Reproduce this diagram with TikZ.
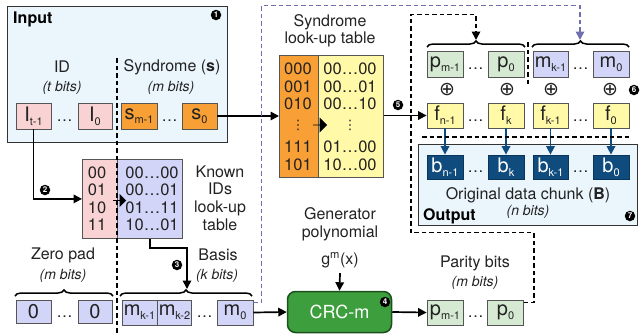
\documentclass[tikz,border=0pt]{standalone}
\usepackage{fontspec}
\setmainfont{TeX Gyre Heros}
\newfontfamily\dejavu{DejaVu Sans}
\usetikzlibrary{arrows.meta,decorations.pathreplacing,shapes.arrows,calc}
\definecolor{inbg}{HTML}{EBF5FC}
\definecolor{pinkc}{HTML}{F9D3D3}
\definecolor{orangec}{HTML}{F8A035}
\definecolor{yellowc}{HTML}{FFF9A8}
\definecolor{lavc}{HTML}{D3D5F8}
\definecolor{greenl}{HTML}{D6E9D3}
\definecolor{bluec}{HTML}{0F4B7D}
\definecolor{crcg}{HTML}{3C9E3C}
\definecolor{crcb}{HTML}{1E4F1E}
\definecolor{purp}{HTML}{7070B0}
\definecolor{txt}{HTML}{222222}
\definecolor{bord}{HTML}{555555}
\newcommand\fsz[1]{\fontsize{#1}{#1}\selectfont}
\newcommand\sbx[2]{#1\raisebox{-0.4ex}{\fsz{11}#2}}
\begin{document}
\begin{tikzpicture}[x=1pt,y=-1pt,
  bitbox/.style={draw=bord, line width=0.8pt, minimum width=35pt, minimum height=25pt, inner sep=0pt, font=\fsz{20}, text=txt},
  pinkbox/.style={bitbox, fill=pinkc},
  orbox/.style={bitbox, fill=orangec},
  lavbox/.style={bitbox, fill=lavc},
  grbox/.style={bitbox, fill=greenl},
  yebox/.style={bitbox, fill=yellowc},
  blbox/.style={bitbox, fill=bluec, text=white, draw=bluec!70!black},
  lbl/.style={font=\fsz{16}, text=txt, inner sep=0pt, align=center},
  ital/.style={font=\fsz{14}\itshape, text=txt, inner sep=0pt},
  tbl/.style={font=\fsz{16.5}, text=txt, inner sep=0pt},
  dotsn/.style={font=\fsz{16}, text=txt, inner sep=0pt},
  numc/.style={circle, fill=black, minimum size=10.5pt, inner sep=0pt, text=white, font=\fsz{8}\bfseries},
  arr/.style={-{Triangle[length=8.5pt,width=8.5pt]}, line width=1.7pt},
  dsh/.style={dash pattern=on 4.5pt off 3pt, line width=1.7pt},
  brc/.style={decorate, decoration={brace, amplitude=6pt}, line width=1.5pt},
  blk/.style={single arrow, fill=black, inner sep=0pt, single arrow head extend=3pt}
]
\useasboundingbox (0,0) rectangle (640,335);

% ---- Input box
\node[draw=black!80, line width=1pt, fill=inbg, anchor=north west, minimum width=220pt, minimum height=136pt, inner sep=0] (inbox) at (7,6) {};
\node[font=\fsz{16}\bfseries, inner sep=0, anchor=base west] (inlbl) at (13,23) {Input};
\node[numc] (n1) at (216,15) {1};
\node[lbl] (idl) at (62,67) {ID};
\node[ital] (idb) at (62,88) {(t bits)};
\node[lbl] (synl) at (172,67) {Syndrome (\textbf{s})};
\node[ital] (synb) at (171,88) {(m bits)};
\node[pinkbox, minimum height=26pt] (It1) at (33.5,116) {\sbx{I}{t-1}};
\node[pinkbox, minimum height=26pt, minimum width=34pt] (I0) at (95,116) {\sbx{I}{0}};
\node[orbox, minimum height=26pt, minimum width=36pt] (sm1) at (139,116) {\sbx{s}{m-1}};
\node[orbox, minimum height=26pt] (s0) at (199.5,116) {\sbx{s}{0}};
\node[dotsn] (d1) at (64.5,121) {…};
\node[dotsn] (d2) at (169.5,121) {…};

% ---- Syndrome look-up table
\node[lbl, font=\fontsize{16}{17}\selectfont] (sylbl) at (330,31) {Syndrome\\look-up table};
\node[draw=bord, line width=0.8pt, fill=orangec, anchor=north west, minimum width=39pt, minimum height=122pt, inner sep=0] (sL) at (279,55) {};
\node[draw=bord, line width=0.8pt, fill=yellowc, anchor=north west, minimum width=65pt, minimum height=122pt, inner sep=0] (sR) at (318,55) {};
\foreach \yy/\aa/\bb [count=\i] in {69/000/00…00, 87/001/00…01, 104/010/00…10, 147/111/01…00, 165/101/10…00}
  { \node[tbl] (sl\i) at (298,\yy) {\aa}; \node[tbl] (sr\i) at (350,\yy) {\bb}; }
\node[font=\dejavu\fsz{13}, text=txt, inner sep=0] (slv) at (298,125) {⋮};
\node[font=\dejavu\fsz{13}, text=txt, inner sep=0] (srv) at (350,125) {⋮};
\node[blk, minimum height=14pt, minimum width=15pt] (sarr) at (320,125) {};
\node[numc] (n5) at (398,105) {5};

% ---- Known IDs table
\node[draw=bord, line width=0.8pt, fill=pinkc, anchor=north west, minimum width=35pt, minimum height=79pt, inner sep=0] (kL) at (82,159) {};
\node[draw=bord, line width=0.8pt, fill=lavc, anchor=north west, minimum width=65pt, minimum height=79pt, inner sep=0] (kR) at (117,159) {};
\foreach \yy/\aa/\bb [count=\i] in {173/00/00…00, 190/01/00…01, 208/10/01…11, 225/11/10…01}
  { \node[tbl] (kl\i) at (97,\yy) {\aa}; \node[tbl] (kr\i) at (152,\yy) {\bb}; }
\node[blk, minimum height=13pt, minimum width=13pt] (karr) at (119.5,200.5) {};
\node[lbl, font=\fontsize{16}{17.6}\selectfont] (klbl) at (220,198) {Known\\IDs\\look-up\\table};
\node[numc] (n2) at (45,190) {2};

% ---- dashed separator (left)
\coordinate (dv1) at (117,58);
\coordinate (dv2) at (117,335);
\draw[dsh] (dv1) -- (dv2);

% ---- bottom left row
\node[lbl] (zpl) at (63,255) {Zero pad};
\node[ital] (zpb) at (63,276) {(m bits)};
\node[lbl] (bal) at (218,255) {Basis};
\node[ital] (bab) at (217,276) {(k bits)};
\node[lavbox, minimum height=23pt] (z1) at (33.5,311.5) {0};
\node[lavbox, minimum height=23pt, minimum width=34pt] (z2) at (95,311.5) {0};
\node[dotsn] (d3) at (64.5,317) {…};
\node[lavbox] (mk1b) at (139.5,312.5) {\sbx{m}{k-1}};
\node[lavbox, minimum width=34pt] (mk2b) at (174.5,312.5) {\sbx{m}{k-2}};
\node[lavbox, minimum width=36pt] (m0b) at (235,312.5) {\sbx{m}{0}};
\node[dotsn] (d4) at (204.5,317) {…};
\draw[brc] (15,296) -- (113,296);
\draw[brc] (120,296) -- (252,296);
\node[numc] (n3) at (177,265) {3};

% ---- CRC
\node[lbl, font=\fontsize{16}{18}\selectfont] (genl) at (340,224) {Generator\\polynomial};
\node[lbl] (gm) at (340,260) {g\textsuperscript{m}(x)};
\node[draw=crcb, line width=1.5pt, fill=crcg, rounded corners=8pt, minimum width=104pt, minimum height=41pt, inner sep=0, text=white, font=\fsz{18}] (crc) at (339.5,312) {CRC-m};
\node[numc] (n4) at (385,302) {4};

% ---- parity bits
\node[lbl] (parl) at (475,263) {Parity bits};
\node[ital] (parb) at (475,283) {(m bits)};
\node[grbox, minimum width=36pt] (pb1) at (445,312.5) {\sbx{p}{m-1}};
\node[grbox, minimum width=36pt] (pb0) at (505.5,312.5) {\sbx{p}{0}};
\node[dotsn] (d5) at (475.5,317) {…};

% ---- top right rows
\node[grbox, minimum width=36pt, minimum height=26pt] (pm1) at (445,64) {\sbx{p}{m-1}};
\node[grbox, minimum width=36pt, minimum height=26pt] (p0) at (506,64) {\sbx{p}{0}};
\node[lavbox, minimum width=35pt, minimum height=26pt] (mk1) at (550.5,64) {\sbx{m}{k-1}};
\node[lavbox, minimum width=36pt, minimum height=26pt] (m0) at (611,64) {\sbx{m}{0}};
\node[dotsn] (d6) at (475.5,69) {…};
\node[dotsn] (d7) at (580.5,69) {…};
\draw[brc] (427,47) -- (525,47);
\draw[brc] (532,47) -- (629,47);
\foreach \xx [count=\i] in {447,507,551,610} { \node[text=txt, inner sep=0, font=\dejavu\fsz{19}] (op\i) at (\xx,90) {⊕}; }
\node[numc] (n6) at (634,90) {6};
\node[yebox, minimum width=36pt] (fn1) at (445,115.5) {\sbx{f}{n-1}};
\node[yebox, minimum width=36pt] (fk) at (506,115.5) {\sbx{f}{k}};
\node[yebox, minimum width=35pt] (fk1) at (550.5,115.5) {\sbx{f}{k-1}};
\node[yebox, minimum width=36pt] (f0) at (611,115.5) {\sbx{f}{0}};
\node[dotsn] (d8) at (475.5,121) {…};
\node[dotsn] (d9) at (580.5,121) {…};

% ---- output box
\node[draw=black!80, line width=1pt, fill=inbg, anchor=north west, minimum width=219pt, minimum height=81pt, inner sep=0] (outbox) at (418,144) {};
\node[blbox, minimum width=36pt, minimum height=24pt] (bn1) at (445,167) {\sbx{b}{n-1}};
\node[blbox, minimum width=36pt, minimum height=24pt] (bk) at (506,167) {\sbx{b}{k}};
\node[blbox, minimum width=35pt, minimum height=24pt] (bk1) at (550.5,167) {\sbx{b}{k-1}};
\node[blbox, minimum width=36pt, minimum height=24pt] (b0) at (611,167) {\sbx{b}{0}};
\node[dotsn] (d10) at (475.5,172) {…};
\node[dotsn] (d11) at (580.5,172) {…};
\node[lbl] (ocl) at (528,195) {Original data chunk (\textbf{B})};
\node[font=\fsz{16}\bfseries, inner sep=0, anchor=base west] (outl) at (423,220) {Output};
\node[ital] (outb) at (528,212) {(n bits)};
\node[numc] (n7) at (630,216) {7};
\foreach \a/\b in {fn1/bn1, fk/bk, fk1/bk1, f0/b0} { \draw[arr, bluec] (\a.south) -- (\b.north); }

% ---- dashed separators (right)
\coordinate (hs1) at (422,137);
\coordinate (hs2) at (630,137);
\draw[dsh] (hs1) -- (hs2);
\coordinate (vs1) at (528,42);
\coordinate (vs2) at (528,87);
\draw[dsh] (vs1) -- (vs2);

% ---- connectors
\draw[arr] (s0.east) -- (s0.east -| sL.west);
\draw[arr] (sR.east |- fn1.west) -- (fn1.west);
\draw[arr] (It1.south) |- (kL.west);
\coordinate (basisTip) at (187,289);
\draw[arr] (kR.south) -- ++(0,9) -| (basisTip);
\draw[arr] (m0b.east) -- (crc.west);
\draw[arr] (gm.south) ++(0,5) -- (crc.north);
\draw[arr] (crc.east) -- (pb1.west);
\coordinate (ptip) at (476,40);
\coordinate (mtip) at (580,40);
\draw[dsh, purp, -{Triangle[length=8.5pt,width=8.5pt]}] ($(m0b.north east)+(0,3)$) -- ++(8,0) -- ++(0,-297) -| (mtip);
\draw[dsh, -{Triangle[length=8.5pt,width=8.5pt]}] ($(pb0.north east)+(0,3)$) -- ++(10,0) -- ++(0,-70) -- ++(-123,0) -- ++(0,-218) -| (ptip);
\end{tikzpicture}
\end{document}
